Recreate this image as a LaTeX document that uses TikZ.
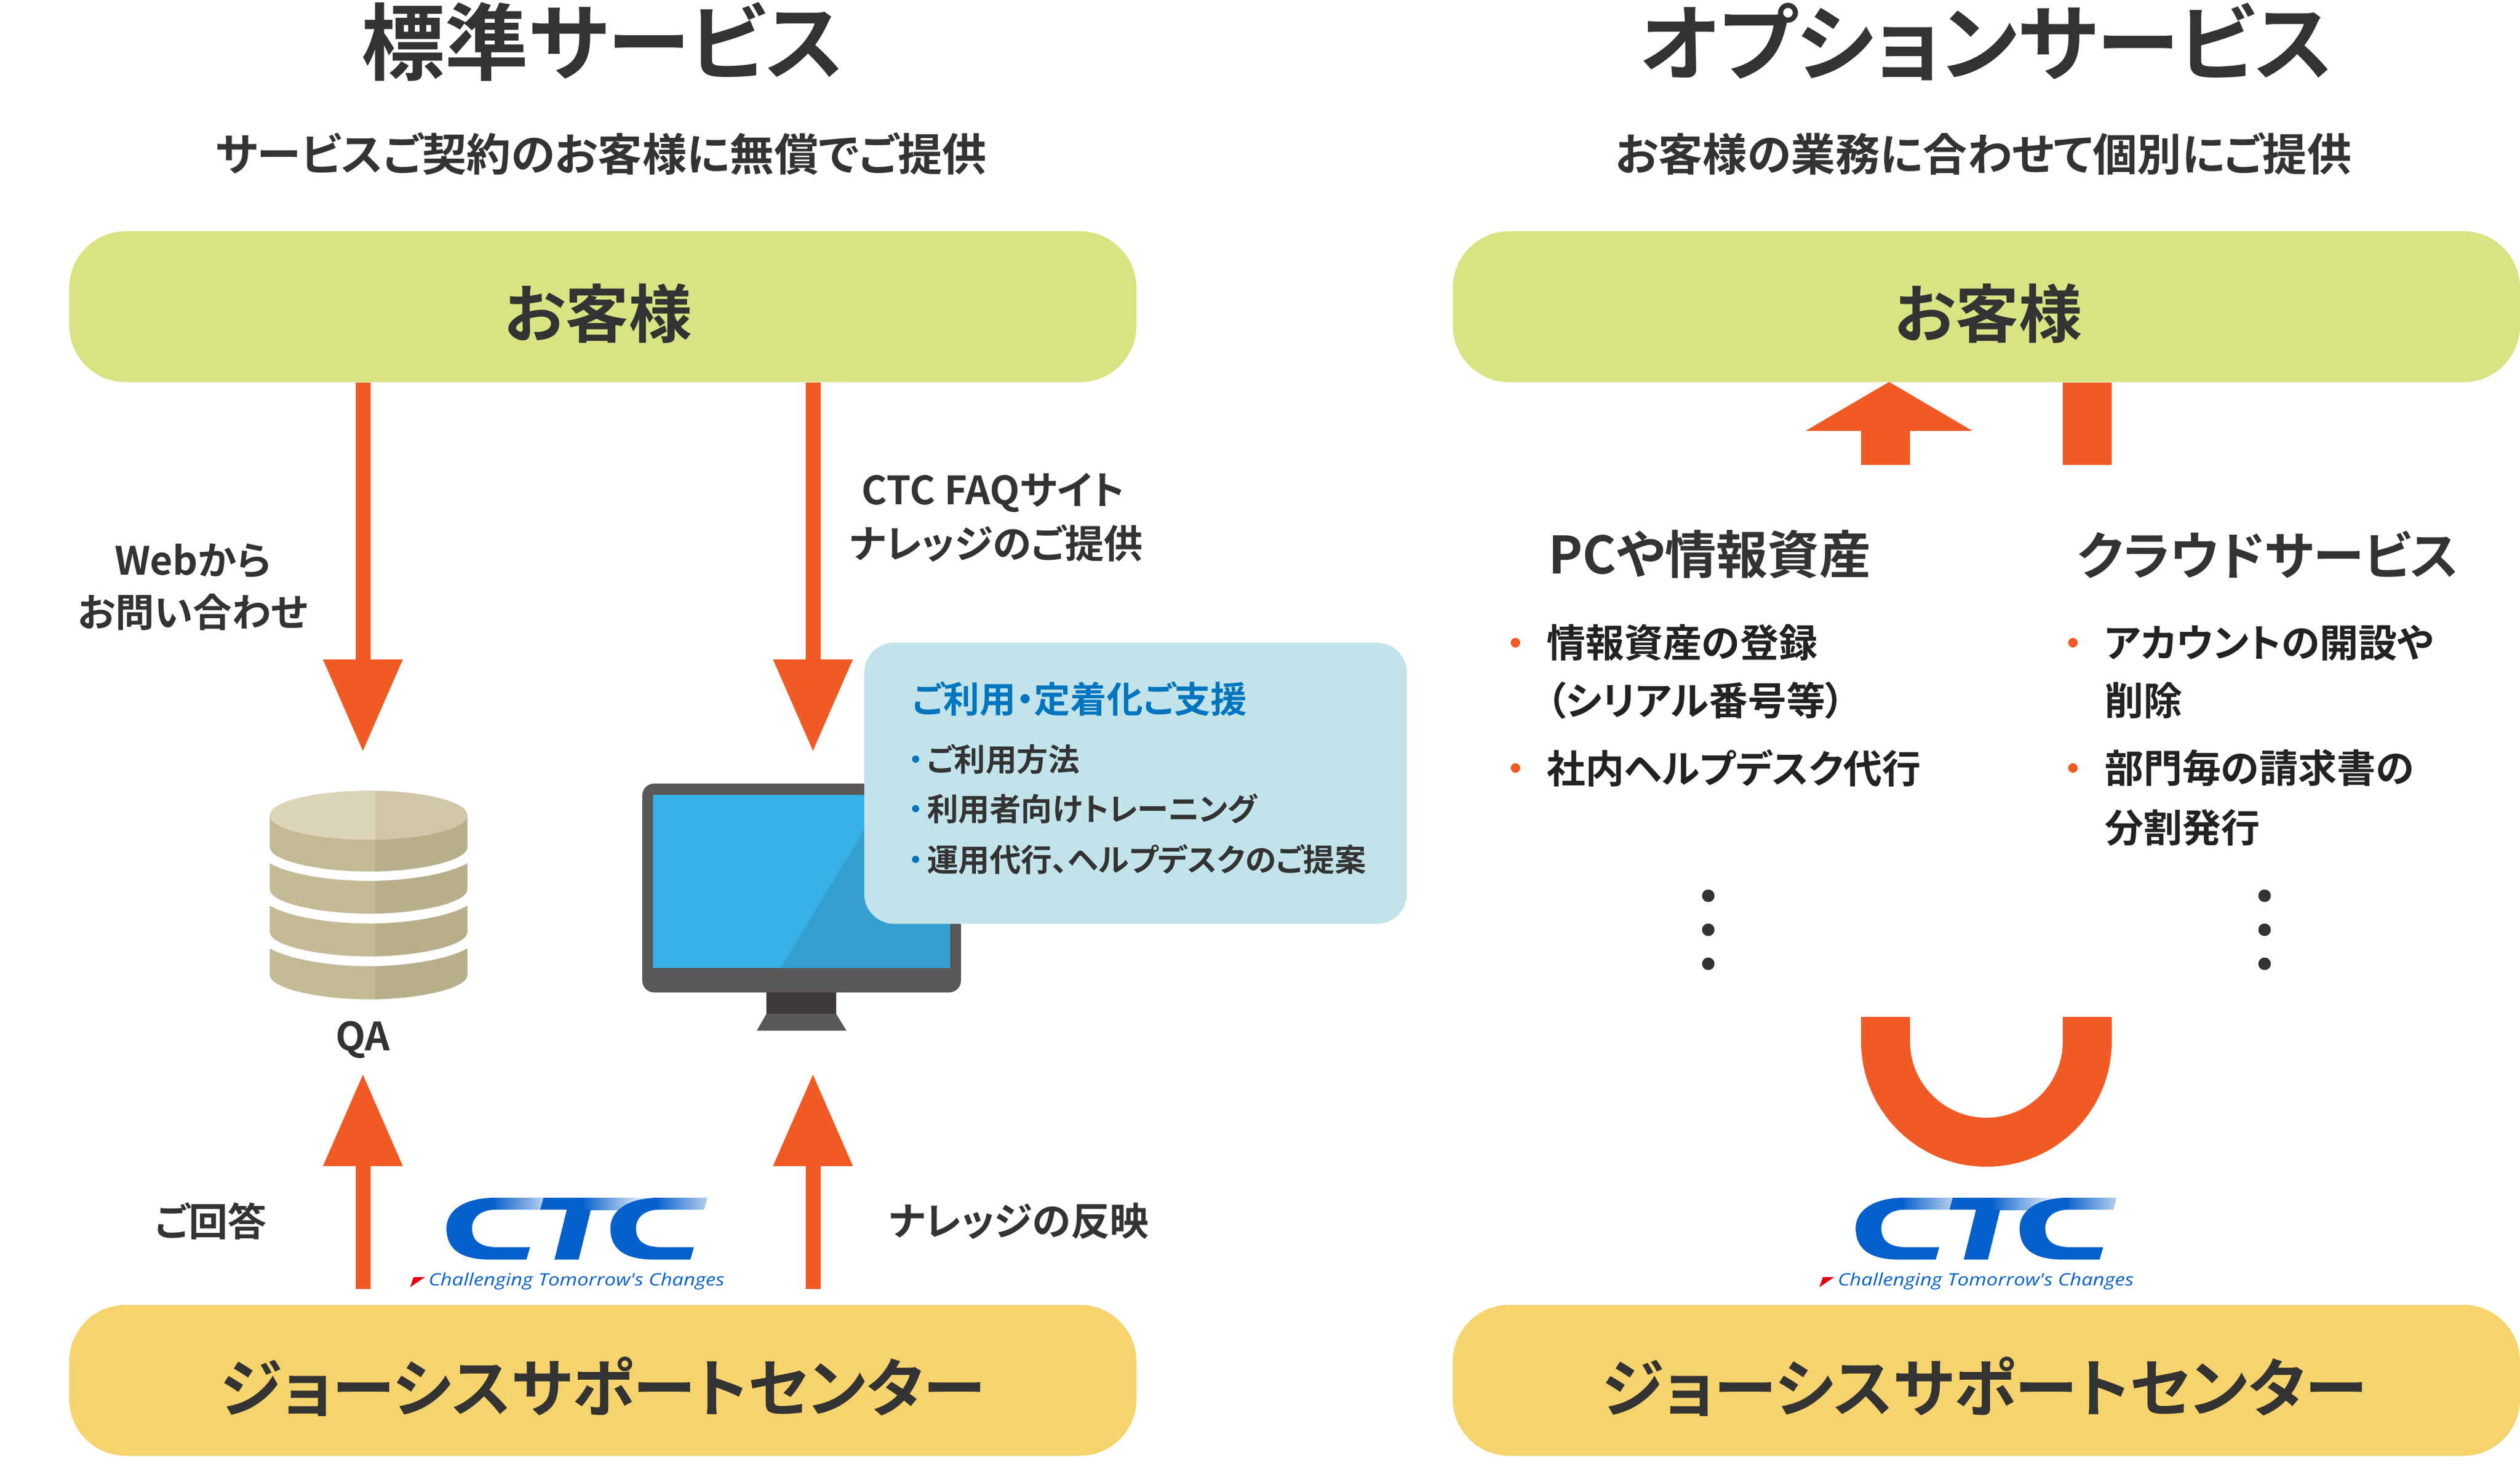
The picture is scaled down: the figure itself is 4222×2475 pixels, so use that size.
\documentclass[tikz,border=0pt]{standalone}
\usepackage{fontspec}
\usetikzlibrary{arrows.meta,calc}
\setmainfont{Noto Sans CJK JP}[RawFeature={+palt},BoldFont={Noto Sans CJK JP Bold}]
\newfontfamily\tagfont{Open Sans}
\definecolor{ink}{HTML}{333333}
\definecolor{inkb}{HTML}{222222}
\definecolor{flowc}{HTML}{F15A24}
\definecolor{pillg}{HTML}{D8E482}
\definecolor{pilly}{HTML}{F6D36C}
\definecolor{boxc}{HTML}{C2E3E9}
\definecolor{boxt}{HTML}{0075BF}
\definecolor{monc}{HTML}{595757}
\definecolor{neckc}{HTML}{3E3A39}
\definecolor{scr}{HTML}{35B1E6}
\definecolor{scrd}{HTML}{35A0CF}
\definecolor{cyl}{HTML}{C5BA96}
\definecolor{cylr}{HTML}{B9AE8C}
\definecolor{cyt}{HTML}{DDD5B8}
\definecolor{cytr}{HTML}{CFC7A8}
\definecolor{logob}{HTML}{0560CC}
\definecolor{logof}{HTML}{B5CEEE}
\definecolor{logow}{HTML}{E6EFFA}
\definecolor{logor}{HTML}{E60012}
\tikzset{
  x=0.2pt,y=-0.2pt,
  lab/.style={inner sep=0pt,text=ink,font=\fontsize{13.05pt}{16pt}\selectfont\bfseries},
  titlelab/.style={lab,font=\fontsize{28pt}{32pt}\selectfont\bfseries},
  sublab/.style={lab,font=\fontsize{14.9pt}{18pt}\selectfont\bfseries},
  pilllab/.style={lab,font=\fontsize{21.2pt}{24pt}\selectfont\bfseries},
  headlab/.style={lab,anchor=west,font=\fontsize{17.25pt}{20pt}\selectfont\bfseries},
  itemlab/.style={lab,anchor=west,text=inkb,font=\fontsize{13pt}{16pt}\selectfont\bfseries},
  boxhead/.style={lab,anchor=west,text=boxt,font=\fontsize{12.15pt}{14pt}\selectfont\bfseries},
  boxitem/.style={lab,anchor=west,font=\fontsize{10.5pt}{13pt}\selectfont\bfseries},
  pillgreen/.style={fill=pillg,rounded corners=19pt,minimum width=357.6pt,minimum height=50.6pt,inner sep=0pt},
  pillyellow/.style={fill=pilly,rounded corners=19pt,minimum width=357.6pt,minimum height=50.6pt,inner sep=0pt},
  flow/.style={draw=flowc,line width=5pt,-{Triangle[length=31pt,width=25.3pt,fill=flowc]}},
  thickflow/.style={draw=flowc,line width=16.4pt},
  dotb/.style={circle,fill=ink,minimum size=4.2pt,inner sep=0pt},
  dotor/.style={circle,fill=flowc,minimum size=3.2pt,inner sep=0pt},
  dotbl/.style={circle,fill=boxt,minimum size=2.4pt,inner sep=0pt},
}
\newcommand{\cylband}[3]{%
  \fill[#3] (452,#1) -- (452,#2) .. controls (452,#2+23) and (535,#2+41) .. (617.5,#2+41)
     .. controls (700,#2+41) and (783,#2+23) .. (783,#2) -- (783,#1) -- cycle;}
\newcommand{\cylhalf}[2]{%
  \cylband{#1}{#2}{cyl}
  \begin{scope}\clip (628.7,1300) rectangle (790,1700);\cylband{#1}{#2}{cylr}\end{scope}}
\newcommand{\ctclogo}[1]{%
 \begin{scope}[shift={(#1,0)}]
  \shade[left color=logob,right color=logof] (824,2007) -- (910.6,2007) -- (905,2027) -- (824,2027) -- cycle;
  \fill[logob] (830,2007) .. controls (775,2007) and (748,2030) .. (748,2058)
     .. controls (748,2092) and (770,2110.7) .. (822,2110.7) -- (882,2110.7) -- (888,2090) -- (835,2090)
     .. controls (805,2090) and (791,2080) .. (791,2058) .. controls (791,2038) and (808,2027) .. (830,2027) -- cycle;
  \shade[left color=logob,right color=logow] (975,2007) -- (1077,2007) -- (1077,2027) -- (975,2027) -- cycle;
  \fill[logob] (910.6,2007) -- (978,2007) -- (978,2027) -- (990,2027) -- (969.5,2110.7) -- (929,2110.7) -- (949.6,2027) -- (905,2027) -- cycle;
  \shade[left color=logob,right color=logof] (1098,2007) -- (1185.2,2007) -- (1179.6,2027) -- (1098,2027) -- cycle;
  \fill[logob] (1104.6,2007) .. controls (1049.6,2007) and (1022.6,2030) .. (1022.6,2058)
     .. controls (1022.6,2092) and (1044.6,2110.7) .. (1096.6,2110.7) -- (1156.6,2110.7) -- (1162.6,2090) -- (1109.6,2090)
     .. controls (1079.6,2090) and (1065.6,2080) .. (1065.6,2058) .. controls (1065.6,2038) and (1082.6,2027) .. (1104.6,2027) -- cycle;
  \fill[logor] (712,2140) -- (693,2140) -- (687,2157) -- cycle;
  \node[inner sep=0pt,anchor=west,text=logob,font=\tagfont\itshape\fontsize{5.7pt}{7pt}\selectfont] (tag#1) at (717,2147) {\scalebox{1.187}[1]{Challenging Tomorrow's Changes}};
 \end{scope}}
\begin{document}
\begin{tikzpicture}
\useasboundingbox (0,0) rectangle (4222,2475);
% pills
\node[pillgreen] (custL) at (1010,514) {};
\node[pillgreen] (custR) at (3328,514) {};
\node[pillyellow] (supL) at (1010,2313) {};
\node[pillyellow] (supR) at (3328,2313) {};
% titles
\node[titlelab] (t1) at (1010,70) {標準サービス};
\node[titlelab] (t2) at (3328,70) {オプションサービス};
\node[sublab] (s1) at (1007,258) {サービスご契約のお客様に無償でご提供};
\node[sublab] (s2) at (3323,258) {お客様の業務に合わせて個別にご提供};
\node[pilllab] (p1) at (1002,525) {お客様};
\node[pilllab] (p2) at (3331,525) {お客様};
\node[pilllab] (p3) at (1010,2324) {ジョーシスサポートセンター};
\node[pilllab] (p4) at (3325,2324) {ジョーシスサポートセンター};
% database
\cylhalf{1578}{1633.6}
\fill[white] (440,1540) -- (795,1540) -- (795,1578) .. controls (783,1600) and (700,1619) .. (617.5,1619) .. controls (535,1619) and (452,1600) .. (440,1578) -- cycle;
\cylhalf{1506.5}{1561.6}
\fill[white] (440,1470) -- (795,1470) -- (795,1506) .. controls (783,1529) and (700,1547.5) .. (617.5,1547.5) .. controls (535,1547.5) and (452,1529) .. (440,1506) -- cycle;
\cylhalf{1435}{1490}
\fill[white] (440,1400) -- (795,1400) -- (795,1435) .. controls (783,1458) and (700,1476) .. (617.5,1476) .. controls (535,1476) and (452,1458) .. (440,1435) -- cycle;
\cylhalf{1366}{1419.5}
\fill[cyt] (617.5,1366) ellipse [x radius=165.5,y radius=41];
\begin{scope}\clip (628.7,1300) rectangle (790,1420);\fill[cytr] (617.5,1366) ellipse [x radius=165.5,y radius=41];\end{scope}
\node[lab] (qa) at (608,1742) {QA};
% monitor
\fill[monc,rounded corners=4pt] (1076,1313) rectangle (1610,1663);
\fill[scr] (1094,1332) rectangle (1592,1622);
\fill[scrd] (1308,1622) -- (1450,1387) -- (1592,1387) -- (1592,1622) -- cycle;
\fill[neckc] (1284,1663) rectangle (1401,1699);
\fill[monc] (1284,1699) -- (1401,1699) -- (1418,1727) -- (1268,1727) -- cycle;
% info box
\fill[boxc,rounded corners=10pt] (1448,1077) rectangle (2357,1548);
\node[boxhead] (bh) at (1527,1171) {ご利用・定着化ご支援};
\node[dotbl] (bd1) at (1534,1272) {};
\node[dotbl] (bd2) at (1534,1355) {};
\node[dotbl] (bd3) at (1534,1440) {};
\node[boxitem] (bi1) at (1552,1272) {ご利用方法};
\node[boxitem] (bi2) at (1552,1355) {利用者向けトレーニング};
\node[boxitem] (bi3) at (1552,1440) {運用代行、ヘルプデスクのご提案};
% left connectors
\coordinate (a1) at (608,1260);
\coordinate (a2) at (1362,1260);
\coordinate (a3) at (608,1799);
\coordinate (a4) at (1362,1799);
\draw[flow] (custL.south -| a1) -- (a1);
\draw[flow] (custL.south -| a2) -- (a2);
\draw[flow] (supL.north -| a3) ++(0,-26) -- (a3);
\draw[flow] (supL.north -| a4) ++(0,-26) -- (a4);
% left labels
\node[lab] (l1) at (323,940) {Webから};
\node[lab] (l2) at (323,1026) {お問い合わせ};
\node[lab] (l3) at (1664,826) {CTC FAQサイト};
\node[lab] (l4) at (1669,910) {ナレッジのご提供};
\node[lab] (l5) at (353,2046) {ご回答};
\node[lab] (l6) at (1707,2046) {ナレッジの反映};
% right connectors
\coordinate (r1) at (3159,779);
\coordinate (r1b) at (3159,722);
\coordinate (r2) at (3497,779);
\coordinate (r3) at (3159,1704);
\coordinate (r4) at (3497,1704);
\coordinate (rtip) at (3165,640);
\draw[thickflow] (r1) -- (r1b);
\fill[flowc] (3025,722) -- (rtip) -- (3304.5,722) -- cycle;
\draw[thickflow] (custR.south -| r2) -- (r2);
\draw[thickflow] (r3) -- ++(0,41) arc[start angle=180,end angle=0,radius=169] -- (r4);
% right lists
\node[headlab] (h1) at (2593,929) {PCや情報資産};
\node[headlab] (h2) at (3479,929) {クラウドサービス};
\node[dotor] (o1) at (2539,1077) {};
\node[dotor] (o2) at (2539,1287) {};
\node[dotor] (o3) at (3473,1077) {};
\node[dotor] (o4) at (3473,1287) {};
\node[itemlab] (i1) at (2590,1077) {情報資産の登録};
\node[itemlab] (i2) at (2590,1174) {（シリアル番号等）};
\node[itemlab] (i3) at (2590,1287) {社内ヘルプデスク代行};
\node[itemlab] (i4) at (3525,1077) {アカウントの開設や};
\node[itemlab] (i5) at (3525,1174) {削除};
\node[itemlab] (i6) at (3525,1287) {部門毎の請求書の};
\node[itemlab] (i7) at (3525,1387) {分割発行};
\foreach \n/\xx in {a/2862,b/3794}{
  \node[dotb] (d\n1) at (\xx,1501) {};
  \node[dotb] (d\n2) at (\xx,1558) {};
  \node[dotb] (d\n3) at (\xx,1615) {};
}
% logos
\ctclogo{0}
\ctclogo{2361}
\end{tikzpicture}
\end{document}
